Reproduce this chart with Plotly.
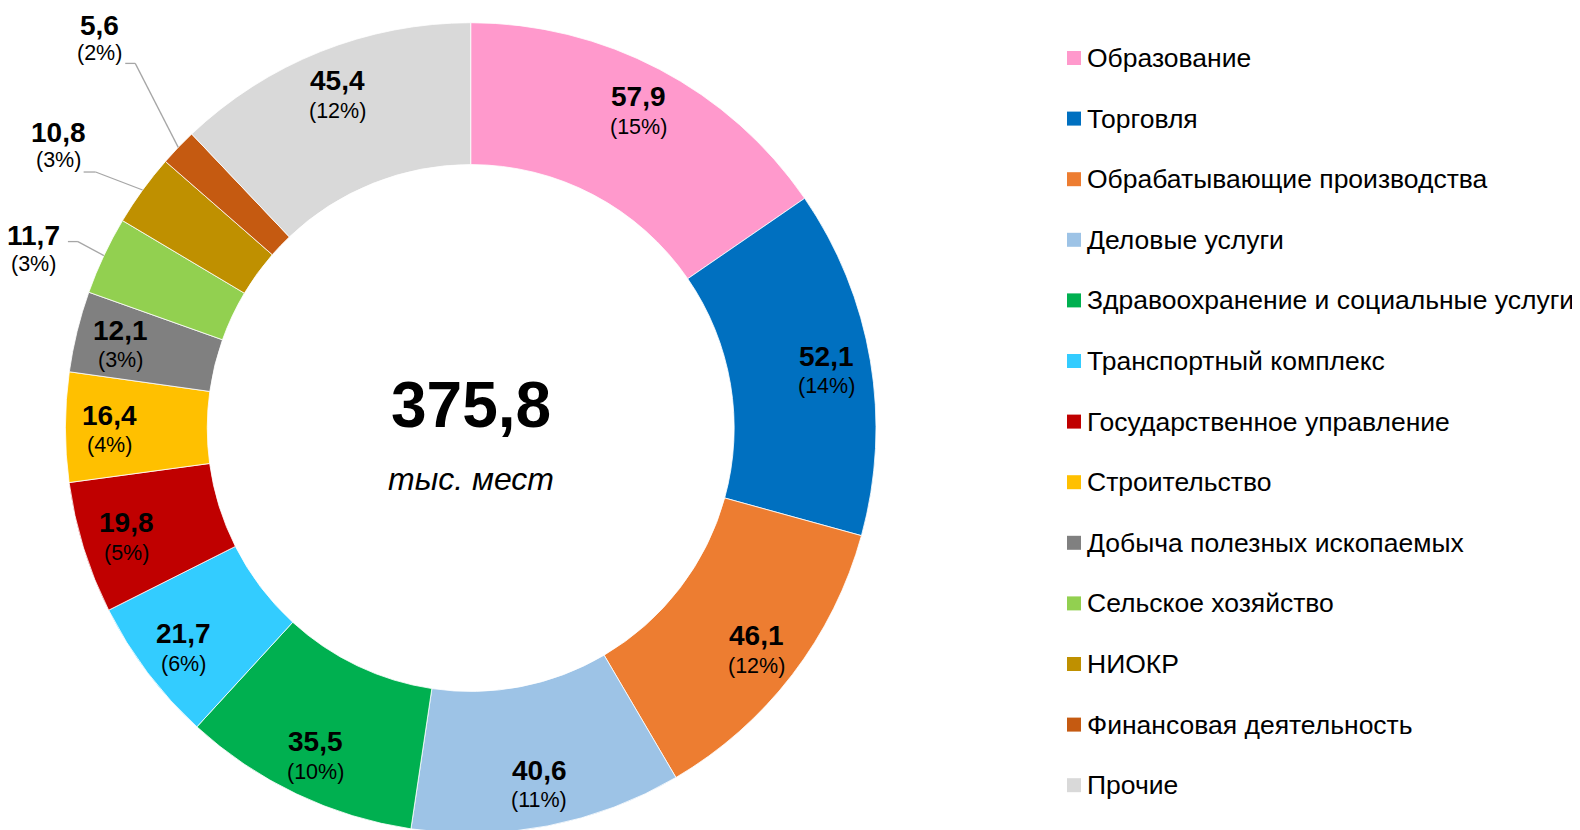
import math
import plotly.graph_objects as go

# ---------------- data ----------------
CATEGORIES = [
    "Образование",
    "Торговля",
    "Обрабатывающие производства",
    "Деловые услуги",
    "Здравоохранение и социальные услуги",
    "Транспортный комплекс",
    "Государственное управление",
    "Строительство",
    "Добыча полезных ископаемых",
    "Сельское хозяйство",
    "НИОКР",
    "Финансовая деятельность",
    "Прочие",
]
VALUES = [57.9, 52.1, 46.1, 40.6, 35.5, 21.7, 19.8, 16.4, 12.1, 11.7, 10.8, 5.6, 45.4]
PERCENT_LABELS = ["15%", "14%", "12%", "11%", "10%", "6%", "5%", "4%", "3%", "3%", "3%", "2%", "12%"]
TOTAL = 375.8
TOTAL_UNIT = "тыс. мест"

# ---------------- style ----------------
COLORS = [
    "#FF99CC", "#0070C0", "#ED7D31", "#9DC3E6", "#00B050", "#33CCFF",
    "#C00000", "#FFC000", "#808080", "#92D050", "#BF9000", "#C55A11", "#D9D9D9",
]
# outside labels: (elbow offset from slice edge, horizontal tail length, label-centre offset from slice edge)
OUTSIDE_LABELS = {
    "Сельское хозяйство": ((-26, -14), 10, (-70, -6)),
    "НИОКР": ((-47, -18), 12, (-84, -44)),
    "Финансовая деятельность": ((-43, -84), 10, (-79, -108)),
}
FONT = "Liberation Sans, Arial, sans-serif"
PAGE_OFFSET = 8            # default body margin of the html page
W, H = 1580 - PAGE_OFFSET, 830
CX, CY, R = 470.7, 428.0, 405.3   # target screen coordinates
HOLE = 0.65
INSIDE_LABEL_R = 0.89
LABEL_DROP = 3
VALUE_FONT = 28
PCT_FONT = 21.5
LEGEND_FONT = 26.5
LEGEND_X0 = 1067
LEGEND_TEXT_X = 1085
LEGEND_Y0 = 58
LEGEND_DY = 60.6
LEGEND_SQ = 14


def px(x):
    return (x - PAGE_OFFSET) / W


def py(y):
    return 1 - (y - PAGE_OFFSET) / H


def fmt(v):
    return f"{v:.1f}".replace(".", ",")


fig = go.Figure()
fig.add_trace(go.Pie(
    labels=CATEGORIES,
    values=VALUES,
    sort=False,
    direction="clockwise",
    rotation=0,
    hole=HOLE,
    marker=dict(colors=COLORS, line=dict(color="white", width=0.8)),
    textinfo="none",
    customdata=PERCENT_LABELS,
    hovertemplate="%{label}<br>%{value:.1f} (%{customdata})<extra></extra>",
    domain=dict(x=[px(CX - R), px(CX + R)], y=[py(CY + R), py(CY - R)]),
    showlegend=False,
))

annotations = []
shapes = []


def label_pair(x, yv, yp, val, pct, xanchor="center"):
    annotations.append(dict(x=px(x), y=py(yv), xref="paper", yref="paper",
                            xanchor=xanchor, yanchor="middle", showarrow=False,
                            text=f"<b>{fmt(val)}</b>",
                            font=dict(family=FONT, size=VALUE_FONT, color="black")))
    annotations.append(dict(x=px(x), y=py(yp), xref="paper", yref="paper",
                            xanchor=xanchor, yanchor="middle", showarrow=False,
                            text=f"({pct})",
                            font=dict(family=FONT, size=PCT_FONT, color="black")))


total_sum = sum(VALUES)
cum = 0.0
for cat, val, pct in zip(CATEGORIES, VALUES, PERCENT_LABELS):
    theta = 2 * math.pi * (cum + val / 2) / total_sum
    cum += val
    dx, dy = math.sin(theta), -math.cos(theta)
    if cat in OUTSIDE_LABELS:
        (ox, oy), tail, (lx_off, ly_off) = OUTSIDE_LABELS[cat]
        ex, ey = CX + R * dx, CY + R * dy
        bx, by = ex + ox, ey + oy
        hx = bx - tail
        for (x0, y0, x1, y1) in [(ex, ey, bx, by), (bx, by, hx, by)]:
            shapes.append(dict(type="line", xref="paper", yref="paper",
                               x0=px(x0), y0=py(y0), x1=px(x1), y1=py(y1),
                               line=dict(color="#A6A6A6", width=1.3)))
        lx, ly = ex + lx_off, ey + ly_off
        label_pair(lx, ly - 14, ly + 14, val, pct)
    else:
        lx, ly = CX + INSIDE_LABEL_R * R * dx, CY + INSIDE_LABEL_R * R * dy + LABEL_DROP
        label_pair(lx, ly - 15, ly + 15, val, pct)

# centre text
annotations.append(dict(x=px(CX), y=py(405), xref="paper", yref="paper", showarrow=False,
                        xanchor="center", yanchor="middle", text=f"<b>{fmt(TOTAL)}</b>",
                        font=dict(family=FONT, size=64, color="black")))
annotations.append(dict(x=px(CX), y=py(479), xref="paper", yref="paper", showarrow=False,
                        xanchor="center", yanchor="middle", text=f"<i>{TOTAL_UNIT}</i>",
                        font=dict(family=FONT, size=32, color="black")))

# legend (manual, to match spacing)
for i, (cat, col) in enumerate(zip(CATEGORIES, COLORS)):
    yc = LEGEND_Y0 + i * LEGEND_DY
    shapes.append(dict(type="rect", xref="paper", yref="paper",
                       x0=px(LEGEND_X0), x1=px(LEGEND_X0 + LEGEND_SQ),
                       y0=py(yc - LEGEND_SQ / 2), y1=py(yc + LEGEND_SQ / 2),
                       fillcolor=col, line=dict(width=0)))
    annotations.append(dict(x=px(LEGEND_TEXT_X), y=py(yc), xref="paper", yref="paper",
                            xanchor="left", yanchor="middle", showarrow=False, text=cat,
                            font=dict(family=FONT, size=LEGEND_FONT, color="black")))

fig.update_layout(
    width=W, height=H,
    margin=dict(l=0, r=0, t=0, b=0),
    paper_bgcolor="white", plot_bgcolor="white",
    annotations=annotations, shapes=shapes,
    font=dict(family=FONT),
)
fig.write_html("out.html")
